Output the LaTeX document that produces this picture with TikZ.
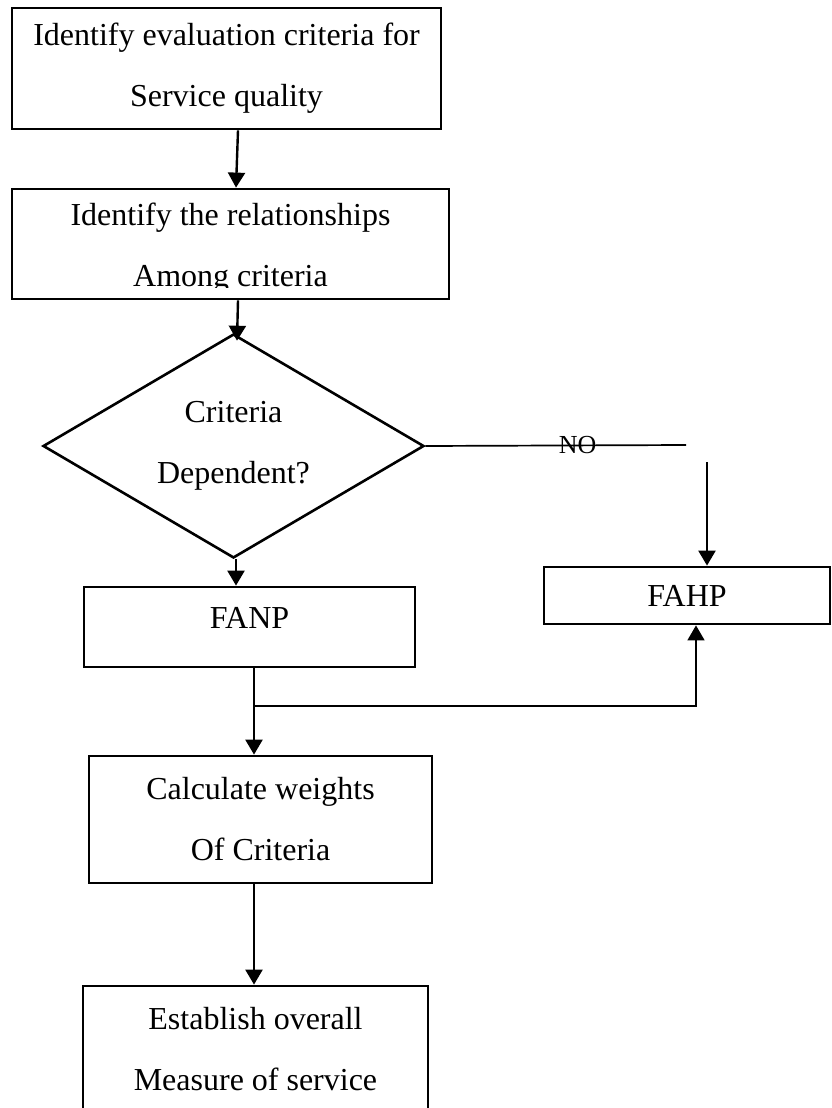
\documentclass[tikz,border=0pt]{standalone}
\usepackage{fontspec}
\setmainfont{Liberation Serif}
\usetikzlibrary{shapes.geometric,arrows.meta}
\tikzset{
    box/.style={draw, line width=2.8pt, rectangle, align=center, inner sep=4pt, font=\fontsize{32}{61}\selectfont},
    decision/.style={draw, line width=2.6pt, diamond, aspect=1.7, align=center, inner sep=4pt, font=\fontsize{32}{61}\selectfont},
    arr/.style={line width=2.4pt, -{Triangle[width=17pt,length=15pt]}},
    link/.style={line width=1.7pt},
}
\begin{document}
\begin{tikzpicture}[x=1pt,y=-1pt]
        % Page
            \clip (0,0) rectangle (831,1108);
        % Boxes
            \node[box, minimum width=429pt, minimum height=121pt] (top) at (226.5,68.5) {Identify evaluation criteria for\\Service quality};
            \node[box, minimum width=437pt, minimum height=110pt] (rel) at (230.5,244) {};
            \begin{scope}
                \clip (12,189) rectangle (449,287);
                \node[box, draw=none] (reltext) at (230.5,248.5) {Identify the relationships\\Among criteria};
            \end{scope}
            \node[decision, minimum width=381pt, minimum height=224pt] (dia) at (233.5,446) {Criteria\\Dependent?};
            \node[box, minimum width=331pt, minimum height=80pt, text depth=18pt] (fanp) at (249.5,627) {FANP};
            \node[box, minimum width=286pt, minimum height=57pt] (fahp) at (687,595.5) {FAHP};
            \node[box, minimum width=343pt, minimum height=127pt] (calc) at (260.5,819.5) {Calculate weights\\Of Criteria};
            \node[box, minimum width=345pt, minimum height=126pt] (final) at (255.5,1049) {Establish overall\\Measure of service};
        % Arrows
            \draw[arr] ([xshift=11.5pt]top.south) -- ([xshift=5.5pt]rel.north);
            \draw[arr] ([xshift=7.5pt]rel.south) -- ([xshift=3.5pt,yshift=-8pt]dia.north);
            \coordinate (diaout) at ([xshift=2.5pt]dia.south);
            \draw[arr] (diaout) -- (diaout |- fanp.north);
        % NO branch
            \coordinate (noend) at (686,445);
            \draw[link] (dia.east) -- node[pos=0.584, font=\fontsize{26}{30}\selectfont] (no) {NO} (noend);
            \coordinate (fahpin) at (707,462);
            \draw[arr] (fahpin) -- (fahpin |- fahp.north);
        % Join to weights
            \coordinate (fanpout) at ([xshift=4.5pt]fanp.south);
            \coordinate (splity) at (0,706);
            \coordinate (split) at (fanpout |- splity);
            \draw[arr] (fanpout) -- (fanpout |- calc.north);
            \draw[link, -{Triangle[width=17pt,length=15pt]}] (split) -| ([xshift=9pt]fahp.south);
            \coordinate (calcout) at ([xshift=-6.5pt]calc.south);
            \draw[arr] (calcout) -- (calcout |- final.north);
\end{tikzpicture}
\end{document}
